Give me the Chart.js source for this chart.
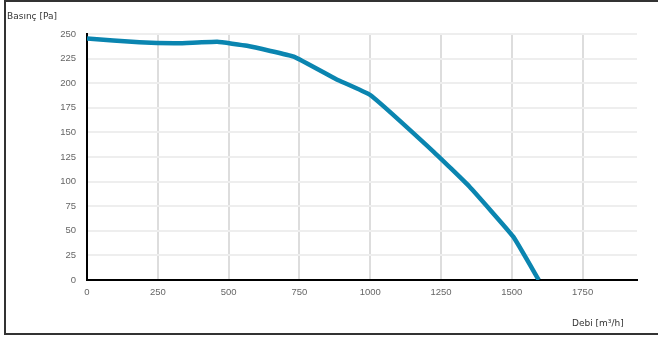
<!DOCTYPE html>
<html>
<head>
<meta charset="utf-8">
<script src="https://cdn.jsdelivr.net/npm/chart.js@4"></script>
<style>
  html, body { margin: 0; padding: 0; background: #fff; overflow: hidden; }
  #wrap { position: relative; width: 658px; height: 337px; }
  #frame { position: absolute; left: 4px; top: 0; width: 720px; height: 331px; border: 2px solid #333; }
  canvas { position: absolute; left: 0; top: 0; }
  .lbl { position: absolute; font-family: "DejaVu Sans", Verdana, sans-serif; font-size: 9px; color: #333; white-space: nowrap; }
</style>
</head>
<body>
<div id="wrap">
  <div id="frame"></div>
  <canvas id="chart" width="658" height="337"></canvas>
  <div class="lbl" id="yTitle" style="left:7px; top:11px;">Basınç [Pa]</div>
  <div class="lbl" id="xTitle" style="left:572px; top:318px;">Debi [m³/h]</div>
</div>
<script>
// fan curve
const flow = [0, 185, 320, 460, 565, 730, 880, 1000, 1225, 1350, 1505, 1595];
const pressure = [245.5, 241.5, 240.5, 242, 238, 227, 204, 188, 130, 95, 44, 0];

const xTicks = [0, 250, 500, 750, 1000, 1250, 1500, 1750];
const yTicks = [0, 25, 50, 75, 100, 125, 150, 175, 200, 225, 250];

const points = flow.map((f, i) => ({ x: f, y: pressure[i] }));

const tickFont = { family: "'Liberation Sans', Arial, sans-serif", size: 9.5 };

new Chart(document.getElementById("chart"), {
  type: "line",
  data: {
    datasets: [{
      data: points,
      borderColor: "#0a85b0",
      borderWidth: 4.5,
      pointRadius: 0,
      tension: 0.1,
      fill: false
    }]
  },
  options: {
    responsive: false,
    animation: false,
    layout: { padding: { left: 0, top: 34, right: 21, bottom: 0 } },
    plugins: { legend: { display: false }, tooltip: { enabled: false } },
    scales: {
      x: {
        type: "linear",
        min: 0,
        max: 1942,
        afterFit: s => { s.height = 57; },
        afterBuildTicks: s => { s.ticks = xTicks.map(v => ({ value: v })); },
        grid: { color: "#dddddd", lineWidth: 2, drawTicks: false },
        border: { color: "#000", width: 2 },
        ticks: { color: "#666", font: tickFont, padding: 7, maxRotation: 0, callback: v => String(v) }
      },
      y: {
        min: 0,
        max: 250,
        afterFit: s => { s.width = 87; },
        afterBuildTicks: s => { s.ticks = yTicks.map(v => ({ value: v })); },
        grid: { color: "#eeeeee", lineWidth: 2, drawTicks: false },
        border: { color: "#000", width: 2 },
        ticks: { color: "#666", font: tickFont, padding: 11, callback: v => String(v) }
      }
    }
  }
});
</script>
</body>
</html>
